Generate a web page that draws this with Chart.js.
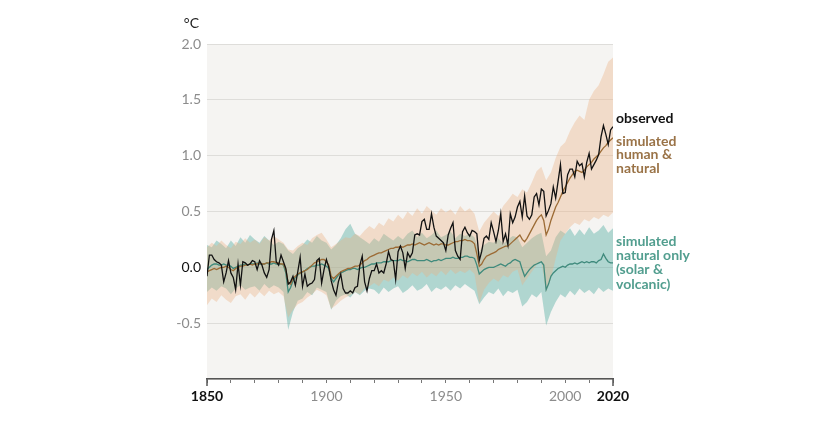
<!DOCTYPE html>
<html>
<head>
<meta charset="utf-8">
<script src="https://cdn.jsdelivr.net/npm/chart.js@4"></script>
<style>
  html, body { margin: 0; padding: 0; background: #fff; }
  #wrap { width: 818px; height: 421px; }
</style>
</head>
<body>
<div id="wrap"><canvas id="chart" width="818" height="421"></canvas></div>
<script>
// global surface temperature change relative to 1850-1900, annual
const firstYear = 1850;
const lastYear = 2020;

const observed = [
  -0.08, 0.11, 0.11, 0.07, 0.05, 0.04, 0.02, -0.13, -0.05, 0.06,
  -0.05, -0.09, -0.20, 0.03, -0.16, 0.05, 0.04, 0.02, 0.03, 0.06,
  0.05, -0.02, 0.06, 0.02, -0.05, -0.09, -0.02, 0.25, 0.33, 0.05,
  0.02, 0.11, 0.05, -0.01, -0.15, -0.13, -0.08, -0.16, -0.04, 0.09,
  -0.17, -0.06, -0.17, -0.15, -0.14, -0.11, 0.06, 0.08, -0.14, -0.02,
  0.07, 0.00, -0.12, -0.20, -0.25, -0.13, -0.06, -0.19, -0.23, -0.23,
  -0.21, -0.23, -0.18, -0.17, 0.02, 0.10, -0.13, -0.21, -0.10, -0.03,
  -0.03, 0.03, -0.05, -0.03, -0.05, 0.03, 0.14, 0.07, 0.06, -0.11,
  0.14, 0.19, 0.13, -0.01, 0.13, 0.09, 0.13, 0.29, 0.30, 0.29,
  0.41, 0.43, 0.34, 0.34, 0.48, 0.36, 0.28, 0.26, 0.24, 0.22,
  0.15, 0.29, 0.35, 0.40, 0.15, 0.10, 0.07, 0.32, 0.36, 0.31,
  0.28, 0.33, 0.32, 0.30, 0.06, 0.14, 0.26, 0.28, 0.25, 0.40,
  0.32, 0.23, 0.33, 0.48, 0.23, 0.30, 0.20, 0.48, 0.40, 0.45,
  0.54, 0.59, 0.45, 0.64, 0.46, 0.43, 0.47, 0.63, 0.66, 0.56,
  0.70, 0.68, 0.46, 0.51, 0.57, 0.72, 0.62, 0.77, 0.92, 0.66,
  0.67, 0.83, 0.88, 0.88, 0.81, 0.95, 0.91, 0.93, 0.81, 0.94,
  1.02, 0.88, 0.92, 0.96, 1.01, 1.17, 1.27, 1.19, 1.10, 1.23,
  1.26
];

// simulated human & natural, model mean
const humanNatural = [
  -0.04, -0.03, -0.02, -0.01, -0.02, -0.01, 0.00, 0.00, 0.01, 0.00,
  -0.02, -0.03, -0.01, 0.00, 0.01, 0.01, 0.02, 0.02, 0.03, 0.02,
  0.03, 0.03, 0.04, 0.03, 0.03, 0.04, 0.04, 0.05, 0.05, 0.04,
  0.04, 0.03, 0.03, -0.02, -0.14, -0.15, -0.10, -0.08, -0.06, -0.05,
  -0.04, -0.03, -0.02, 0.00, 0.02, 0.04, 0.05, 0.06, 0.07, 0.07,
  0.05, 0.02, -0.08, -0.10, -0.08, -0.06, -0.04, -0.03, -0.02, -0.01,
  -0.01, 0.00, 0.01, 0.01, 0.02, 0.04, 0.06, 0.07, 0.09, 0.10,
  0.11, 0.12, 0.13, 0.13, 0.14, 0.15, 0.16, 0.17, 0.17, 0.18,
  0.18, 0.19, 0.18, 0.19, 0.20, 0.20, 0.21, 0.20, 0.21, 0.22,
  0.21, 0.20, 0.21, 0.22, 0.21, 0.20, 0.21, 0.20, 0.21, 0.21,
  0.20, 0.20, 0.21, 0.22, 0.23, 0.23, 0.24, 0.24, 0.25, 0.24,
  0.24, 0.23, 0.21, 0.12, 0.01, 0.03, 0.07, 0.10, 0.11, 0.12,
  0.13, 0.14, 0.16, 0.17, 0.18, 0.19, 0.19, 0.21, 0.23, 0.25,
  0.27, 0.29, 0.25, 0.23, 0.26, 0.30, 0.34, 0.38, 0.42, 0.45,
  0.47, 0.42, 0.29, 0.34, 0.42, 0.48, 0.54, 0.58, 0.63, 0.68,
  0.72, 0.76, 0.80, 0.83, 0.86, 0.87, 0.86, 0.85, 0.87, 0.90,
  0.92, 0.94, 0.97, 0.99, 1.01, 1.04, 1.07, 1.09, 1.12, 1.14,
  1.16
];

// simulated natural only (solar & volcanic), model mean
const naturalOnly = [
  -0.02, 0.00, 0.02, 0.03, 0.03, 0.02, 0.02, 0.03, 0.02, 0.02,
  0.01, -0.01, 0.00, 0.01, 0.02, 0.02, 0.03, 0.02, 0.03, 0.03,
  0.03, 0.04, 0.03, 0.03, 0.03, 0.04, 0.03, 0.03, 0.04, 0.03,
  0.03, 0.03, 0.02, -0.05, -0.22, -0.18, -0.12, -0.09, -0.07, -0.05,
  -0.04, -0.03, -0.01, 0.00, 0.01, 0.01, 0.02, 0.02, 0.03, 0.02,
  0.01, -0.01, -0.10, -0.13, -0.10, -0.07, -0.05, -0.04, -0.03, -0.02,
  -0.02, -0.01, -0.01, -0.02, -0.01, 0.00, 0.00, 0.01, 0.02, 0.03,
  0.03, 0.04, 0.04, 0.04, 0.05, 0.05, 0.05, 0.06, 0.06, 0.06,
  0.06, 0.07, 0.06, 0.06, 0.05, 0.06, 0.07, 0.07, 0.06, 0.06,
  0.06, 0.06, 0.07, 0.06, 0.05, 0.06, 0.06, 0.07, 0.06, 0.07,
  0.08, 0.08, 0.08, 0.09, 0.08, 0.08, 0.09, 0.09, 0.10, 0.10,
  0.09, 0.09, 0.08, 0.02, -0.06, -0.04, -0.02, -0.01, 0.00, 0.00,
  0.00, 0.01, 0.02, 0.03, 0.02, 0.01, 0.03, 0.04, 0.06, 0.07,
  0.06, 0.05, -0.02, -0.08, -0.05, -0.02, 0.00, 0.02, 0.03, 0.04,
  0.05, 0.02, -0.20, -0.15, -0.08, -0.05, -0.03, -0.01, 0.00, 0.01,
  0.00, 0.02, 0.03, 0.03, 0.04, 0.03, 0.04, 0.05, 0.04, 0.05,
  0.04, 0.05, 0.05, 0.04, 0.06, 0.07, 0.12, 0.08, 0.05, 0.04,
  0.04
];

// model ranges, read every second year (1850, 1852, ... 2020)
const rangeStep = 2;
const humanNaturalHigh = [
  0.18, 0.22, 0.19, 0.24, 0.20,
  0.17, 0.23, 0.21, 0.26, 0.22,
  0.25, 0.21, 0.27, 0.24, 0.28,
  0.25, 0.22, 0.16, 0.15, 0.19,
  0.22, 0.20, 0.26, 0.29, 0.31,
  0.25, 0.18, 0.21, 0.24, 0.27,
  0.26, 0.30, 0.28, 0.33, 0.37,
  0.34, 0.40, 0.37, 0.44, 0.41,
  0.47, 0.43, 0.50, 0.46, 0.53,
  0.48, 0.55, 0.51, 0.47, 0.53,
  0.49, 0.52, 0.47, 0.55, 0.50,
  0.53, 0.48, 0.32, 0.40, 0.45,
  0.50, 0.46, 0.55, 0.60, 0.66,
  0.63, 0.70, 0.67, 0.76, 0.86,
  0.90, 0.78, 0.85, 0.98, 1.08,
  1.12, 1.22, 1.30, 1.36, 1.32,
  1.50, 1.58, 1.63, 1.73, 1.84,
  1.88
];
const humanNaturalLow = [
  -0.34, -0.28, -0.31, -0.25, -0.29,
  -0.32, -0.26, -0.24, -0.29, -0.23,
  -0.27, -0.22, -0.26, -0.21, -0.24,
  -0.22, -0.26, -0.45, -0.38, -0.33,
  -0.31, -0.27, -0.24, -0.20, -0.22,
  -0.25, -0.37, -0.34, -0.30, -0.27,
  -0.25, -0.22, -0.24, -0.19, -0.17,
  -0.14, -0.17, -0.11, -0.13, -0.09,
  -0.12, -0.07, -0.10, -0.05, -0.08,
  -0.04, -0.09, -0.05, -0.08, -0.03,
  -0.07, -0.02, -0.06, -0.03, -0.05,
  -0.02, -0.06, -0.32, -0.20, -0.14,
  -0.10, -0.13, -0.07, -0.09, -0.04,
  -0.02, -0.16, -0.10, -0.04, 0.02,
  0.05, -0.22, -0.10, 0.08, 0.24,
  0.30, 0.36, 0.40, 0.38, 0.43,
  0.41, 0.45, 0.43, 0.47, 0.45,
  0.49
];
const naturalHigh = [
  0.20, 0.18, 0.24, 0.21, 0.17,
  0.24, 0.19, 0.27, 0.22, 0.29,
  0.25, 0.22, 0.28, 0.24, 0.20,
  0.23, 0.21, 0.15, 0.12, 0.17,
  0.20, 0.25, 0.22, 0.28, 0.24,
  0.22, 0.16, 0.20, 0.26, 0.34,
  0.39, 0.30, 0.27, 0.24, 0.21,
  0.26, 0.23, 0.30, 0.27, 0.24,
  0.28, 0.25, 0.30, 0.33, 0.27,
  0.31, 0.26, 0.29, 0.33, 0.27,
  0.29, 0.32, 0.26, 0.30, 0.28,
  0.30, 0.27, 0.14, 0.20, 0.23,
  0.22, 0.26, 0.21, 0.25, 0.28,
  0.27, 0.18, 0.22, 0.26, 0.29,
  0.31, 0.10, 0.15, 0.27, 0.33,
  0.30, 0.35, 0.28, 0.34, 0.29,
  0.36, 0.30, 0.33, 0.38, 0.31,
  0.35
];
const naturalLow = [
  -0.22, -0.18, -0.21, -0.17, -0.19,
  -0.24, -0.19, -0.16, -0.20, -0.18,
  -0.17, -0.21, -0.15, -0.19, -0.16,
  -0.18, -0.22, -0.56, -0.40, -0.30,
  -0.28, -0.22, -0.25, -0.18, -0.20,
  -0.22, -0.38, -0.30, -0.26, -0.24,
  -0.27, -0.22, -0.25, -0.21, -0.19,
  -0.20, -0.24, -0.18, -0.22, -0.19,
  -0.17, -0.23, -0.20, -0.16, -0.21,
  -0.19, -0.15, -0.22, -0.18, -0.20,
  -0.17, -0.21, -0.16, -0.19, -0.15,
  -0.18, -0.21, -0.33, -0.27, -0.22,
  -0.24, -0.19, -0.26, -0.21, -0.23,
  -0.20, -0.35, -0.31, -0.24, -0.27,
  -0.22, -0.52, -0.40, -0.31, -0.24,
  -0.27, -0.21, -0.25, -0.19, -0.23,
  -0.20, -0.24, -0.18, -0.22, -0.19,
  -0.21
];

const yTicks = [2.0, 1.5, 1.0, 0.5, 0.0, -0.5];
const xLabelYears = [1850, 1900, 1950, 2000, 2020];

const BROWN = '#9c6b35';
const TEAL = '#3f8a7c';
const FONT = 'Lato, "Noto Sans", sans-serif';

const yearly = vals => vals.map((v, i) => ({ x: firstYear + i, y: v }));
const stepped = vals => vals.map((v, i) => ({ x: firstYear + i * rangeStep, y: v }));
const isEnd = c => !!c.tick && (c.tick.value === firstYear || c.tick.value === lastYear);

const plotBg = {
  id: 'plotBg',
  beforeDraw(chart) {
    const { ctx, chartArea: a } = chart;
    ctx.save();
    ctx.fillStyle = '#f5f4f2';
    ctx.fillRect(a.left, a.top, a.right - a.left, a.bottom - a.top);
    ctx.restore();
  }
};

const labels = {
  id: 'labels',
  afterDraw(chart) {
    const { ctx, chartArea: a } = chart;
    const y = chart.scales.y;
    const x0 = a.right + 3;
    ctx.save();
    ctx.textAlign = 'left';
    ctx.textBaseline = 'middle';
    ctx.font = 'bold 14px ' + FONT;
    ctx.fillStyle = '#111';
    ctx.fillText('observed', x0, y.getPixelForValue(1.335));
    ctx.fillStyle = '#9a7347';
    ['simulated', 'human &', 'natural'].forEach((t, i) =>
      ctx.fillText(t, x0, y.getPixelForValue(1.13) + i * 13.5));
    ctx.fillStyle = '#529e8f';
    ['simulated', 'natural only', '(solar &', 'volcanic)'].forEach((t, i) =>
      ctx.fillText(t, x0, y.getPixelForValue(0.235) + i * 14.3));
    // unit
    ctx.font = '14px ' + FONT;
    ctx.fillStyle = '#222';
    ctx.textAlign = 'right';
    ctx.fillText('°C', a.left - 8, 23);
    // longer end ticks
    const xs = chart.scales.x;
    ctx.strokeStyle = '#555';
    ctx.lineWidth = 1.5;
    [firstYear, lastYear].forEach(v => {
      const px = Math.round(xs.getPixelForValue(v));
      ctx.beginPath();
      ctx.moveTo(px, a.bottom);
      ctx.lineTo(px, a.bottom + 7);
      ctx.stroke();
    });
    ctx.restore();
  }
};

new Chart(document.getElementById('chart').getContext('2d'), {
  type: 'line',
  data: {
    datasets: [
      { data: yearly(observed), borderColor: '#111', borderWidth: 1.3, order: 0 },
      { data: yearly(humanNatural), borderColor: BROWN, borderWidth: 1.3, order: 1 },
      { data: yearly(naturalOnly), borderColor: TEAL, borderWidth: 1.3, order: 2 },
      { data: stepped(humanNaturalLow), borderWidth: 0, borderColor: 'transparent', order: 3 },
      { data: stepped(humanNaturalHigh), borderWidth: 0, borderColor: 'transparent',
        backgroundColor: 'rgba(236,175,128,0.36)', fill: '-1', order: 3 },
      { data: stepped(naturalLow), borderWidth: 0, borderColor: 'transparent', order: 4 },
      { data: stepped(naturalHigh), borderWidth: 0, borderColor: 'transparent',
        backgroundColor: 'rgba(82,172,162,0.42)', fill: '-1', order: 4 }
    ]
  },
  options: {
    responsive: false,
    animation: false,
    devicePixelRatio: 1,
    layout: { padding: { top: 44, right: 205, left: 0, bottom: 0 } },
    elements: { point: { radius: 0 }, line: { tension: 0 } },
    plugins: { legend: { display: false }, tooltip: { enabled: false } },
    scales: {
      x: {
        type: 'linear',
        min: firstYear,
        max: lastYear,
        afterFit: s => { s.height = 42; },
        grid: { drawOnChartArea: false, drawTicks: true, tickLength: 4, tickColor: '#777', tickWidth: 1 },
        border: { display: true, color: '#555', width: 1.5 },
        ticks: {
          stepSize: 10,
          autoSkip: false,
          maxRotation: 0,
          padding: 5,
          callback: v => xLabelYears.includes(v) ? String(v) : '',
          color: c => isEnd(c) ? '#111' : '#8c8c8c',
          font: c => ({ family: FONT, size: 14, weight: isEnd(c) ? 'bold' : 'normal' })
        }
      },
      y: {
        min: -1.0,
        max: 2.0,
        afterFit: s => { s.width = 207; },
        grid: { color: '#deddda', lineWidth: 1, drawTicks: false },
        border: { display: false },
        ticks: {
          stepSize: 0.5,
          padding: 6,
          callback: v => yTicks.includes(v) ? v.toFixed(1) : '',
          color: c => (c.tick && c.tick.value === 0) ? '#111' : '#8c8c8c',
          font: { family: FONT, size: 14 }
        }
      }
    }
  },
  plugins: [plotBg, labels]
});
</script>
</body>
</html>
